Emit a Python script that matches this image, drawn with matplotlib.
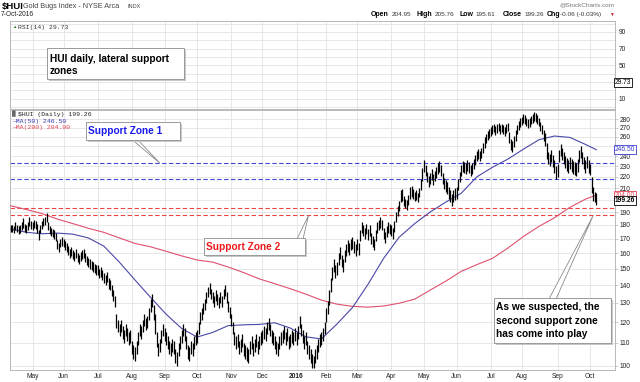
import numpy as np
import pandas as pd
import matplotlib
matplotlib.use('Agg')
import matplotlib.pyplot as plt
from matplotlib.patches import Polygon, Rectangle

plt.rcParams['font.family'] = ['Liberation Sans', 'DejaVu Sans']

W, H = 640, 382

# NYSE closed days inside the window
holidays = ['2015-05-25', '2015-07-03', '2015-09-07', '2015-11-26', '2015-12-25',
            '2016-01-01', '2016-01-18', '2016-02-15', '2016-03-25', '2016-05-30',
            '2016-07-04', '2016-09-05']

# daily lows / highs, one row per month (Apr 2015 .. Oct 2016)
lows = [
    175, 175, 174, 176, 175, 173, 174, 176, 178, 175, 174, 176, 179, 177,
    176, 178, 177, 174, 169, 174, 177, 179, 180, 182, 176, 173, 172, 171, 170, 168, 163, 161, 164, 165,
    164, 162, 161, 159, 157, 158, 156, 155, 157, 154, 153, 155, 156, 157, 154, 152, 151, 150, 149, 148, 147, 146,
    146, 144, 145, 143, 141, 140, 142, 138, 137, 134, 131, 128, 117, 115, 113, 115, 112, 110, 113, 111, 109, 110,
    105, 103, 102, 105, 109, 113, 112, 115, 118, 116, 117, 121, 125, 128, 121, 114, 108, 104, 106, 110, 113,
    111, 109, 107, 105, 104, 106, 105, 101, 100, 104, 107, 110, 113, 111, 107, 103, 102, 105, 104, 107, 109,
    110, 114, 119, 121, 124, 126, 130, 133, 135, 132, 130, 128, 131, 129, 127, 130, 128, 132, 134, 130, 125, 122,
    118, 114, 109, 107, 108, 105, 106, 108, 104, 103, 102, 101, 105, 107, 104, 106, 108, 105, 107, 109,
    110, 112, 111, 114, 116, 113, 110, 109, 107, 105, 104, 107, 109, 110, 112, 109, 111, 107, 108, 110, 109, 111,
    109, 112, 117, 113, 110, 107, 109, 105, 103, 101, 99, 99, 101, 103, 106, 108, 109, 111, 114,
    120, 124, 129, 136, 143, 148, 144, 146, 152, 156, 151, 148, 154, 158, 161, 159, 162, 163, 160, 158,
    162, 159, 168, 174, 172, 170, 173, 169, 172, 166, 164, 162, 168, 174, 176, 178, 176, 170, 167, 171, 174, 173,
    172, 170, 175, 182, 187, 191, 198, 199, 195, 193, 192, 196, 201, 202, 201, 199, 200, 198, 202, 208, 216,
    225, 221, 215, 211, 214, 217, 213, 216, 219, 223, 225, 221, 214, 209, 207, 205, 201, 198, 195, 198, 200,
    201, 208, 215, 221, 225, 224, 223, 226, 224, 221, 223, 227, 231, 235, 237, 235, 238, 243, 248, 253, 257, 259,
    261, 263, 265, 262, 264, 266, 263, 265, 263, 261, 264, 266, 253, 246, 244, 249, 256, 263, 268, 271,
    273, 276, 275, 272, 270, 271, 274, 276, 278, 277, 275, 272, 267, 263, 256, 250, 237, 232, 230, 234, 229, 224, 218,
    220, 234, 240, 236, 232, 228, 226, 224, 227, 225, 223, 222, 221, 225, 234, 238, 232, 227, 224, 228, 224,
    222, 206, 199, 198, 196,
]
highs = [
    180, 180, 179, 182, 180, 179, 180, 182, 185, 181, 180, 182, 186, 183,
    182, 184, 183, 181, 176, 180, 183, 185, 186, 189, 182, 179, 178, 177, 176, 174, 169, 167, 170, 171,
    170, 168, 167, 165, 163, 164, 162, 161, 163, 160, 159, 161, 162, 163, 160, 158, 157, 156, 155, 154, 153, 152,
    152, 150, 151, 149, 147, 146, 148, 144, 143, 140, 137, 134, 124, 121, 119, 121, 118, 116, 119, 117, 115, 116,
    111, 109, 108, 111, 115, 119, 118, 121, 124, 122, 123, 127, 132, 135, 129, 124, 115, 110, 112, 116, 119,
    117, 115, 113, 111, 110, 112, 111, 107, 106, 110, 113, 116, 119, 117, 113, 109, 108, 111, 110, 113, 115,
    116, 120, 125, 127, 130, 132, 136, 139, 141, 138, 136, 134, 137, 135, 133, 136, 134, 138, 140, 136, 131, 128,
    124, 120, 115, 113, 114, 111, 112, 114, 110, 109, 108, 107, 111, 113, 110, 112, 114, 111, 113, 115,
    116, 118, 117, 120, 122, 119, 116, 115, 113, 111, 110, 113, 115, 116, 118, 115, 117, 113, 114, 116, 115, 117,
    115, 118, 123, 119, 116, 113, 115, 111, 109, 107, 105, 104, 107, 109, 112, 114, 115, 117, 120,
    127, 131, 137, 144, 151, 156, 152, 154, 160, 164, 159, 156, 162, 166, 169, 167, 170, 171, 168, 166,
    170, 167, 176, 182, 180, 178, 181, 177, 180, 174, 172, 170, 176, 182, 184, 186, 184, 178, 175, 179, 182, 181,
    180, 178, 183, 190, 195, 199, 208, 209, 203, 201, 200, 204, 211, 212, 209, 207, 208, 206, 210, 218, 228,
    236, 231, 225, 221, 224, 227, 223, 226, 229, 233, 235, 231, 224, 219, 217, 215, 211, 208, 205, 208, 210,
    211, 218, 225, 231, 235, 234, 233, 236, 234, 231, 233, 237, 241, 245, 247, 245, 248, 253, 260, 263, 267, 269,
    271, 273, 275, 272, 274, 276, 273, 275, 273, 271, 274, 276, 265, 258, 256, 261, 268, 273, 278, 281,
    283, 286, 285, 282, 280, 281, 284, 286, 288, 287, 285, 282, 277, 273, 268, 264, 253, 244, 242, 246, 241, 236, 230,
    232, 246, 252, 248, 244, 240, 238, 236, 239, 237, 235, 234, 233, 237, 246, 250, 244, 239, 236, 240, 236,
    232, 220, 211, 207, 206,
]

# moving averages read every 10 sessions (plus the last session)
ma50 = [177, 174.6, 173.5, 174, 173.2, 170.5, 164.7, 154, 143, 133,
        124, 116.8, 112.7, 114.9, 118.2, 118.6, 118.8, 119.6, 117, 112.8,
        111.8, 119, 127.5, 140.5, 156.5, 171, 181, 190, 198, 205.5,
        220, 229, 237, 247, 257, 261, 259.5, 252, 246.5]
ma200 = [195, 192, 188.8, 184.5, 181, 177.5, 174.5, 170.5, 166.6, 164.3,
         161.3, 158.2, 155.5, 154.1, 151, 147.5, 143.7, 140.8, 137.9, 134.8,
         131.5, 129.3, 128.1, 127.7, 128.3, 129.8, 132, 137.1, 142.3, 148.3,
         152.5, 156.5, 163.4, 171.5, 178.9, 185.5, 193.8, 200.5, 204]

support1 = [233, 218]
support2 = [193.5, 187.5]
price_ticks = list(range(100, 290, 10))
price_hidden = [200, 250]          # covered by the value flags in the original
rsi_ticks = [10, 50, 70, 90]
last_close = 199.26

dates = pd.bdate_range('2015-04-13', '2016-10-07', freq='C', holidays=holidays)
n = min(len(dates), len(lows), len(highs))
x = np.arange(n)
ma_x = list(range(0, n, 10)) + [n - 1]
m = min(len(ma_x), len(ma50))

months = dates.to_period('M')
starts = [i for i in range(1, len(dates)) if months[i] != months[i - 1]]
mlabels = [str(dates[i].year) if dates[i].month == 1 else dates[i].strftime('%b') for i in starts]


def fr(px_l, px_t, px_w, px_h):
    return [px_l / W, 1 - (px_t + px_h) / H, px_w / W, px_h / H]


fig = plt.figure(figsize=(W / 100, H / 100), dpi=100)
grid_c = '#e3e3e3'
spine_c = '#b8b8b8'

# RSI panel (empty)
ax_r = fig.add_axes(fr(10, 21, 605, 88))
ax_r.set_xlim(-0.5, 389)
ax_r.set_ylim(-2.5, 103)
ax_r.set_yticks(rsi_ticks)
ax_r.set_yticks(range(0, 101, 10), minor=True)
ax_r.set_xticks(starts)
ax_r.grid(True, which='both', color=grid_c, lw=0.6)
ax_r.yaxis.tick_right()
ax_r.tick_params(axis='y', which='both', length=0, labelsize=4.8, pad=2.5, labelcolor='#222')
ax_r.tick_params(axis='x', length=0, labelbottom=False)
for s in ax_r.spines.values():
    s.set_color(spine_c)
    s.set_linewidth(0.7)

# price panel
ax = fig.add_axes(fr(10, 110, 605, 260))
ax.set_yscale('log')
ax.set_xlim(-0.5, 389)
ax.set_ylim(98.2, 291)
ax.set_yticks(price_ticks)
ax.set_yticklabels(['' if t in price_hidden else str(t) for t in price_ticks])
ax.yaxis.set_minor_locator(matplotlib.ticker.NullLocator())
ax.yaxis.tick_right()
ax.set_xticks(starts)
ax.set_xticklabels(mlabels)
for t, lab in zip(ax.get_xticklabels(), mlabels):
    if lab.isdigit():
        t.set_fontweight('bold')
ax.tick_params(axis='y', length=2, width=0.5, color=spine_c, labelsize=4.8, pad=1.5, labelcolor='#222')
ax.tick_params(axis='x', length=0, labelsize=4.8, pad=2.5, labelcolor='#222')
ax.grid(True, color=grid_c, lw=0.6)
ax.set_axisbelow(True)
for s in ax.spines.values():
    s.set_color(spine_c)
    s.set_linewidth(0.7)

for v in support1:
    ax.axhline(v, color='#4545dd', lw=0.8, ls=(0, (4, 2.2)), zorder=2)
for v in support2:
    ax.axhline(v, color='#e84545', lw=0.8, ls=(0, (4, 2.2)), zorder=2)

ax.plot(ma_x[:m], ma200[:m], color='#e0506e', lw=0.8, zorder=3)
ax.plot(ma_x[:m], ma50[:m], color='#4848a8', lw=0.8, zorder=3)
ax.vlines(x, lows[:n], highs[:n], color='black', lw=0.9, zorder=4)

# right-hand value flags
for val, col, wt in [(ma50[m - 1], '#3a3ad0', 'normal'), (ma200[m - 1], '#e04050', 'normal'),
                     (last_close, 'black', 'bold')]:
    ax.text(1.0, val, f'{val:.2f}', transform=ax.get_yaxis_transform(), ha='left', va='center',
            fontsize=4.8, color=col, fontweight=wt, zorder=6, clip_on=False,
            bbox=dict(boxstyle='square,pad=0.15', fc='white', ec=col, lw=0.6))
ax_r.text(1.0, 29.73, '29.73', transform=ax_r.get_yaxis_transform(), ha='left', va='center',
          fontsize=4.8, color='black', clip_on=False,
          bbox=dict(boxstyle='square,pad=0.15', fc='white', ec='black', lw=0.6))

# overlay in pixel space for header, legends and call-outs
ov = fig.add_axes([0, 0, 1, 1], zorder=10)
ov.set_xlim(0, W)
ov.set_ylim(H, 0)
ov.axis('off')
ov.patch.set_alpha(0)

ov.text(2, 6, '$HUI', fontsize=6.8, fontweight='bold', va='center')
ov.text(23, 6.3, 'Gold Bugs Index - NYSE Arca', fontsize=5.2, color='#444', va='center')
ov.text(128, 6.5, 'INDX', fontsize=4.0, color='#444', va='center')
ov.text(1, 14.5, '7-Oct-2016', fontsize=4.8, color='#222', va='center')
ov.text(615, 5, '@StockCharts.com', fontsize=4.6, color='#777', ha='right', va='center')
hdr = [(370.5, 'Open', True), (391.5, '204.95', False), (416.5, 'High', True), (435, '205.76', False),
       (459, 'Low', True), (475, '195.61', False), (503, 'Close', True), (524, '199.26', False),
       (546.5, 'Chg', True), (560, '-0.06 (-0.03%)', False)]
for px, s, b in hdr:
    ov.text(px, 14.5, s, fontsize=5.0 if b else 4.6, fontweight='bold' if b else 'normal',
            color='black' if b else '#333', va='center')
ov.text(611.5, 14.5, '\u25bc', fontsize=3.5, color='#d02020', ha='center', va='center')

mono = ['Liberation Mono', 'DejaVu Sans Mono']
ov.text(12, 27, '\u25b2', fontsize=3.2, color='#2a7a2a', va='center')
ov.text(18, 27, 'RSI(14) 29.73', fontsize=4.6, family=mono, color='#333', va='center')
ov.text(12, 114.3, '\u2593', fontsize=3.6, color='#333', va='center')
ov.text(18, 114.3, '$HUI (Daily) 199.26', fontsize=4.6, family=mono, color='#222', va='center')
ov.text(12, 121, '\u2014MA(50) 246.50', fontsize=4.6, family=mono, color='#3a3ab0', va='center')
ov.text(12, 128, '\u2014MA(200) 204.00', fontsize=4.6, family=mono, color='#e04050', va='center')


def callout(box, lines, color, tip=None, base=None):
    l, t, r, b = box
    if tip is not None:
        ov.add_patch(Polygon([base[0], base[1], tip], closed=True, fc='white', ec='#8a8a8a', lw=0.6, zorder=1))
    ov.add_patch(Rectangle((l + 1.5, t + 1.5), r - l, b - t, fc='#c8c8c8', ec='none', zorder=2))
    ov.add_patch(Rectangle((l, t), r - l, b - t, fc='white', ec='#9a9a9a', lw=0.7, zorder=3))
    for y, s in lines:
        ov.text(l + 2.5, y, s, fontsize=7.3, fontweight='bold', color=color, va='center', zorder=4)


callout((47, 48, 184, 79), [(58.5, 'HUI daily, lateral support'), (71.5, 'zones')], 'black')
callout((86, 122, 180, 140), [(131, 'Support Zone 1')], '#1a1aee',
        tip=(160, 163.3), base=[(131.5, 139), (137, 139)])
callout((204, 238, 305, 255), [(246.5, 'Support Zone 2')], '#ee1a1a',
        tip=(308.5, 215.5), base=[(297, 239), (303, 239)])
callout((494, 298, 611, 343), [(307, 'As we suspected, the'), (320.5, 'second support zone'),
                               (334, 'has come into play')], 'black',
        tip=(593, 216), base=[(549, 299), (556, 299)])

fig.savefig('out.png', dpi=100)
